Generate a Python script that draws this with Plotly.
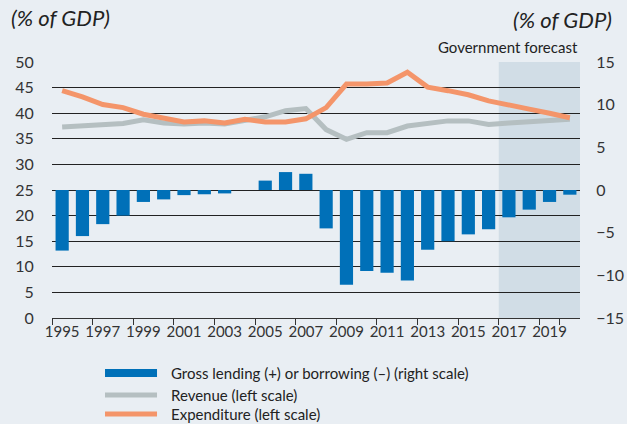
import plotly.graph_objects as go

years = list(range(1995, 2021))
lending = [-7.1, -5.4, -4.0, -3.0, -1.4, -1.1, -0.6, -0.5, -0.4, 0.0, 1.1, 2.1, 1.9,
           -4.5, -11.1, -9.5, -9.7, -10.6, -7.0, -6.0, -5.2, -4.6, -3.2, -2.3, -1.4, -0.55]
revenue = [37.3, 37.5, 37.6, 38.0, 38.7, 38.1, 37.9, 38.1, 37.9, 38.7, 39.3, 40.5, 40.9,
           36.8, 34.9, 36.2, 36.2, 37.5, 38.1, 38.5, 38.5, 37.8, 38.1, 38.3, 38.4, 38.8]
expenditure = [44.4, 43.2, 41.7, 41.1, 39.8, 39.0, 38.3, 38.5, 38.1, 38.8, 38.3, 38.3, 38.9,
               41.1, 45.7, 45.7, 45.9, 48.0, 45.1, 44.4, 43.6, 42.4, 41.5, 40.8, 40.0, 39.1]
forecast_start = 2017
left_ticks = list(range(0, 55, 5))
right_ticks = list(range(-15, 20, 5))
legend_labels = ["Gross lending (+) or borrowing (\u2013) (right scale)",
                 "Revenue (left scale)", "Expenditure (left scale)"]

BG = "#e9eef3"
BLUE = "#0070b8"
GRAY = "#b5bfc1"
ORANGE = "#f4956a"
SHADE = "#d1dde6"
TXT = "#222222"
FONT = "Lato"

xcat = [str(y) for y in years]

fig = go.Figure()
fig.add_trace(go.Bar(x=xcat, y=lending, yaxis="y2", marker=dict(color=BLUE, line=dict(width=0)),
                     width=0.65, showlegend=False))
fig.add_trace(go.Scatter(x=xcat, y=revenue, mode="lines", line=dict(color=GRAY, width=5),
                         showlegend=False))
fig.add_trace(go.Scatter(x=xcat, y=expenditure, mode="lines", line=dict(color=ORANGE, width=5),
                         showlegend=False))

fs = years.index(forecast_start) - 0.5
fig.add_shape(type="rect", xref="x", yref="paper", x0=fs, x1=len(years) - 0.5, y0=0, y1=1,
              fillcolor=SHADE, line=dict(width=0), layer="below")

# manual legend
rows = [-0.2148, -0.3008, -0.375]
styles = [(BLUE, 8), (GRAY, 5), (ORANGE, 5)]
for yy, (col, w), lab in zip(rows, styles, legend_labels):
    fig.add_shape(type="line", xref="paper", yref="paper", x0=0.1004, x1=0.1989, y0=yy, y1=yy,
                  line=dict(color=col, width=w))
    fig.add_annotation(xref="paper", yref="paper", x=0.2225, y=yy, text=lab, showarrow=False,
                       xanchor="left", yanchor="middle", font=dict(size=15, color=TXT, family=FONT))

fig.add_annotation(xref="paper", yref="paper", x=-0.082, y=1.175, text="<i>(% of GDP)</i>",
                   showarrow=False, xanchor="left", yanchor="middle",
                   font=dict(size=22, color=TXT, family=FONT))
fig.add_annotation(xref="paper", yref="paper", x=1.064, y=1.165, text="<i>(% of GDP)</i>",
                   showarrow=False, xanchor="right", yanchor="middle",
                   font=dict(size=22, color=TXT, family=FONT))
fig.add_annotation(xref="paper", yref="paper", x=1.0, y=1.057, text="Government forecast",
                   showarrow=False, xanchor="right", yanchor="middle",
                   font=dict(size=15, color=TXT, family=FONT))

fig.update_layout(
    width=627, height=424,
    margin=dict(l=52, r=47, t=62, b=106, autoexpand=False),
    paper_bgcolor=BG, plot_bgcolor=BG,
    font=dict(family=FONT, color=TXT),
    bargap=0.35,
    xaxis=dict(type="category", tickmode="array", tickvals=xcat[::2], ticktext=xcat[::2],
               tickson="boundaries", ticks="outside", ticklen=6, tickcolor="#333",
               showline=True, linecolor="#333", linewidth=1, showgrid=False, tickangle=0,
               automargin=False,
               tickfont=dict(size=15, color="#333"), range=[-0.5, len(years) - 0.5]),
    yaxis=dict(range=[0, 50], tickmode="array", tickvals=left_ticks, showgrid=True,
               gridcolor="#222", gridwidth=1, zeroline=False, ticks="outside", ticklen=14,
               automargin=False,
               tickcolor="rgba(0,0,0,0)", tickfont=dict(size=16, color="#333")),
    yaxis2=dict(range=[-15, 15], tickmode="array", tickvals=right_ticks, overlaying="y",
                side="right", showgrid=False, zeroline=False, ticks="outside", ticklen=12,
                automargin=False,
                tickcolor="rgba(0,0,0,0)", tickfont=dict(size=16, color="#333")),
)

fig.write_html("out.html", config={"displayModeBar": False},
               post_script="document.body.style.margin='0';document.body.style.overflow='hidden';")
